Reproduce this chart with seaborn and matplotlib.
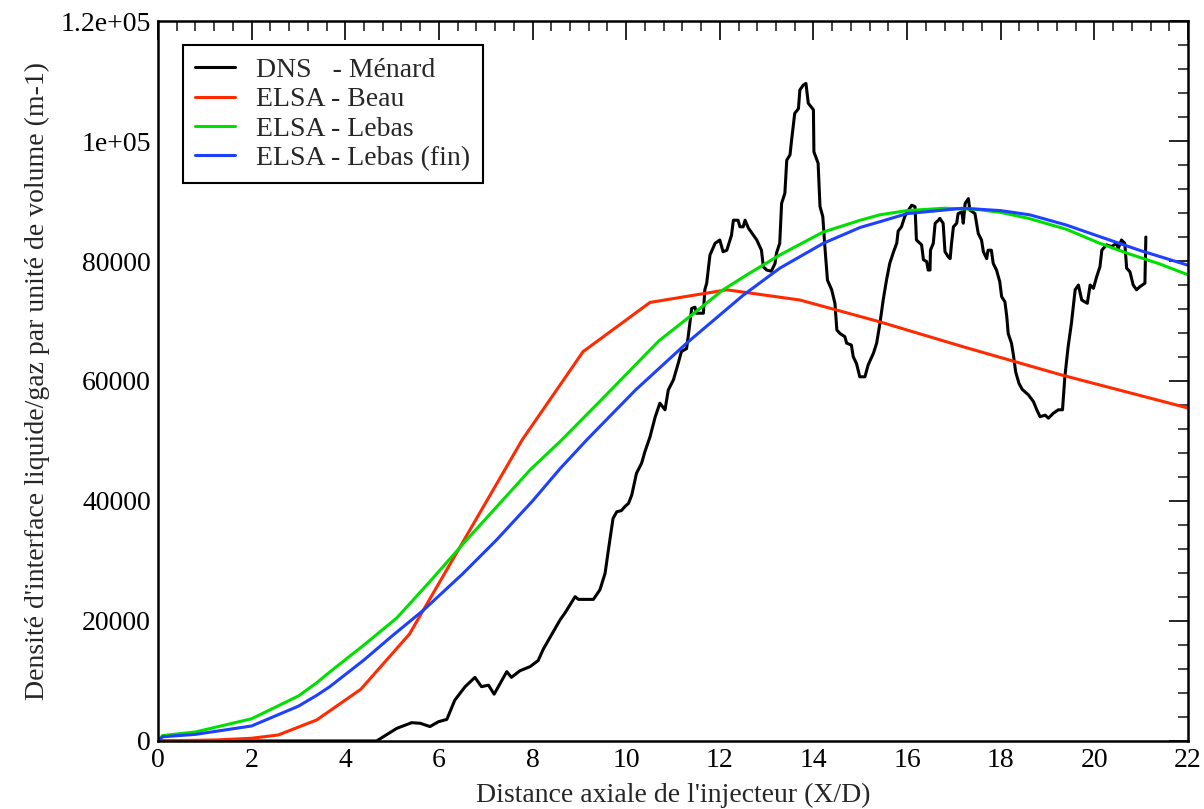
import matplotlib
matplotlib.use("Agg")
from matplotlib import pyplot as plt
from matplotlib.ticker import MultipleLocator
import pandas as pd
import seaborn as sns

# DNS - Ménard (jagged curve)
dns_x = [0, 4.67, 5.10, 5.42, 5.60, 5.81, 5.99, 6.17, 6.34, 6.56, 6.77, 6.91, 7.06, 7.18, 7.27,
         7.45, 7.55, 7.73, 7.95, 8.12, 8.23, 8.59, 8.69, 8.91, 8.98, 9.30, 9.44, 9.55, 9.62,
         9.72, 9.80, 9.90, 9.97, 10.05, 10.12, 10.22, 10.33, 10.40, 10.51, 10.62, 10.72, 10.83,
         10.90, 11.01, 11.11, 11.18, 11.29, 11.33, 11.40, 11.47, 11.50, 11.65, 11.68, 11.72,
         11.79, 11.90, 12.00, 12.07, 12.15, 12.25, 12.29, 12.39, 12.43, 12.50, 12.54, 12.61,
         12.79, 12.89, 12.93, 13.00, 13.10, 13.18, 13.21, 13.28, 13.32, 13.39, 13.43, 13.50,
         13.53, 13.60, 13.68, 13.71, 13.78, 13.84, 13.89, 14.00, 14.01, 14.10, 14.14, 14.20,
         14.25, 14.30, 14.39, 14.46, 14.50, 14.57, 14.67, 14.71, 14.81, 14.85, 14.92, 14.99,
         15.10, 15.17, 15.28, 15.35, 15.42, 15.49, 15.56, 15.63, 15.71, 15.78, 15.81, 15.88,
         15.95, 16.03, 16.10, 16.17, 16.20, 16.31, 16.35, 16.42, 16.45, 16.49, 16.50, 16.56,
         16.60, 16.67, 16.70, 16.77, 16.81, 16.88, 16.92, 16.95, 16.99, 17.06, 17.09, 17.17,
         17.20, 17.24, 17.31, 17.34, 17.45, 17.52, 17.59, 17.63, 17.70, 17.73, 17.80, 17.84,
         17.91, 17.98, 18.02, 18.09, 18.13, 18.16, 18.23, 18.27, 18.32, 18.39, 18.46, 18.59,
         18.70, 18.77, 18.84, 18.95, 19.02, 19.12, 19.23, 19.32, 19.37, 19.44, 19.51, 19.59,
         19.66, 19.73, 19.85, 19.91, 19.98, 20.05, 20.12, 20.16, 20.26, 20.37, 20.47, 20.51,
         20.58, 20.65, 20.69, 20.76, 20.83, 20.90, 20.97, 21.08, 21.10]
dns_y = [0, 0, 2100, 3050, 2950, 2400, 3200, 3600, 6800, 9050, 10600, 9050, 9300, 7800, 9050,
         11550, 10600, 11700, 12400, 13400, 15300, 20200, 21300, 24050, 23600, 23600, 25200, 27950, 31800,
         37100, 38200, 38400, 39050, 39600, 41000, 44600, 46300, 48200, 50700, 54000, 56300, 55200,
         58500, 60200, 62900, 64900, 65400, 67700, 72100, 72300, 71300, 71300, 75200, 76300,
         81000, 82950, 83500, 81550, 81800, 84300, 86800, 86800, 85700, 85700, 86800, 85500,
         83500, 81800, 79050, 78500, 78300, 79600, 81300, 82950, 89600, 91300, 96800, 97700,
         99900, 104600, 105400, 108500, 109300, 109600, 106300, 105200, 98200, 96300, 89100, 87400,
         81800, 76800, 75200, 72900, 68500, 67900, 67400, 66300, 66000, 64050, 62900, 60700,
         60700, 62700, 64600, 66300, 69600, 73500, 76800, 79600, 81500, 83000, 85000, 85700,
         87400, 88500, 89300, 89050, 83500, 82700, 80200, 79900, 78500, 78500, 81800, 82950,
         86300, 86800, 87100, 86300, 81550, 80700, 80400, 82950, 85700, 86300, 87900, 88200,
         86300, 89600, 90400, 88500, 87900, 84600, 83500, 81550, 80400, 81800, 81800, 79600,
         78500, 76550, 74050, 73200, 70700, 67900, 66300, 64400, 61500, 59600, 58600, 57700,
         56550, 55200, 54050, 54300, 53800, 54600, 55200, 55200, 60700, 65700, 69600, 75200,
         76000, 73500, 72950, 76000, 75450, 77400, 79050, 81800, 82700, 82400, 82950, 82100,
         83500, 82950, 78800, 78200, 76000, 75200, 75700, 76300, 84000]

# ELSA - Beau
beau_x = [0, 1.25, 2.0, 2.57, 3.39, 4.33, 5.37, 7.78, 9.08, 10.51, 12.15, 13.71, 15.4, 17.2, 19.3, 22]
beau_y = [0, 170, 450, 1000, 3500, 8600, 17800, 50200, 64900, 73100, 75200, 73500, 69900, 65700, 61000, 55500]

# ELSA - Lebas
lebas_x = [0, 0.1, 0.8, 2.0, 3.0, 3.39, 3.67, 4.4, 5.1, 5.8, 6.59, 7.3, 7.95, 8.6, 9.5, 10.7,
           11.4, 12.07, 12.6, 13.28, 14.2, 15.0, 15.42, 16.0, 16.8, 17.5, 18.0, 18.6, 19.4,
           20.1, 20.7, 21.4, 22]
lebas_y = [0, 900, 1500, 3700, 7500, 9700, 11500, 16000, 20500, 26500, 33500, 39600, 45200,
           50000, 57100, 66700, 71000, 75200, 77800, 81000, 84800, 86800, 87700, 88400, 88800,
           88600, 88100, 87100, 85300, 83000, 81300, 79500, 77700]

# ELSA - Lebas (fin)
fin_x = [0, 0.1, 0.8, 2.0, 3.0, 3.39, 3.67, 4.4, 5.0, 5.67, 6.5, 7.23, 8.0, 8.59, 9.16, 10.2,
         11.29, 12.5, 13.28, 14.21, 15.0, 15.42, 16.0, 17.2, 18.0, 18.62, 19.4, 20.12, 21.0, 22]
fin_y = [0, 700, 1100, 2500, 5800, 7600, 9050, 13500, 17500, 21800, 27800, 33500, 40000, 45400,
         50200, 58500, 66300, 74300, 78800, 82950, 85600, 86550, 87900, 88800, 88400, 87700,
         86000, 84050, 81700, 79300]

labels = ["DNS   - Ménard", "ELSA - Beau", "ELSA - Lebas", "ELSA - Lebas (fin)"]
colors = ["black", "#ff2a00", "#00e000", "#1e40ff"]

y_ticks = [0, 20000, 40000, 60000, 80000, 100000, 120000]
y_ticklabels = ["0", "20000", "40000", "60000", "80000", "1e+05", "1.2e+05"]
x_ticks = [0, 2, 4, 6, 8, 10, 12, 14, 16, 18, 20, 22]

sns.set_theme(style="white")
plt.rcParams["font.family"] = ["Liberation Serif", "DejaVu Serif"]

fig = plt.figure(figsize=(12.04, 8.09), dpi=100)
ax = fig.add_subplot(111)
fig.subplots_adjust(left=0.1312, right=0.9867, bottom=0.0841, top=0.974)

series = [(dns_x, dns_y), (beau_x, beau_y), (lebas_x, lebas_y), (fin_x, fin_y)]
for (xs, ys), lab, col in zip(series, labels, colors):
    df = pd.DataFrame({"x": xs, "y": ys})
    sns.lineplot(data=df, x="x", y="y", ax=ax, sort=False, estimator=None,
                 color=col, linewidth=2.2, label=lab)

ax.set_xlim(0, 22)
ax.set_ylim(0, 120000)
ax.set_xticks(x_ticks)
ax.set_xticklabels([str(t) for t in x_ticks])
ax.set_yticks(y_ticks)
ax.set_yticklabels(y_ticklabels)
ax.xaxis.set_minor_locator(MultipleLocator(0.4))
ax.yaxis.set_minor_locator(MultipleLocator(4000))
ax.tick_params(which="major", direction="in", length=14, width=1.2, top=True, right=True,
               labelsize=20, colors="black", pad=5)
ax.tick_params(which="minor", direction="in", length=7, width=1.2, top=True, right=True)
for sp in ax.spines.values():
    sp.set_color("black")
    sp.set_linewidth(1.8)

ax.set_xlabel("Distance axiale de l'injecteur (X/D)", fontsize=20, labelpad=7)
ax.set_ylabel("Densité d'interface liquide/gaz par unité de volume (m-1)", fontsize=20, labelpad=8)

leg = ax.legend(loc="upper left", bbox_to_anchor=(0.024, 0.9667), borderaxespad=0,
                fontsize=20, frameon=True, fancybox=False, framealpha=1, edgecolor="black",
                handlelength=1.45, labelspacing=0.14, borderpad=0.45, handletextpad=0.75)
leg.get_frame().set_linewidth(1.5)

fig.savefig("out.png", dpi=100)
